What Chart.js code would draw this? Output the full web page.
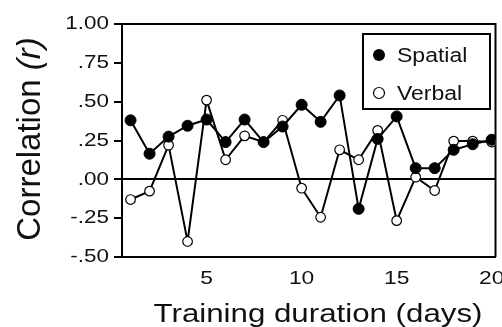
<!DOCTYPE html>
<html>
<head>
<meta charset="utf-8">
<script src="https://cdn.jsdelivr.net/npm/chart.js@4.4.1/dist/chart.umd.min.js"></script>
<style>
  html, body { margin: 0; padding: 0; background: #fff; }
  #wrap { width: 502px; height: 327px; }
</style>
</head>
<body>
<div id="wrap"><canvas id="chart"></canvas></div>
<script>
// valores
const days = [1, 2, 3, 4, 5, 6, 7, 8, 9, 10, 11, 12, 13, 14, 15, 16, 17, 18, 19, 20];
const spatial = [0.38, 0.165, 0.275, 0.345, 0.385, 0.24, 0.385, 0.24, 0.34, 0.48, 0.37, 0.54, -0.19, 0.26, 0.405, 0.072, 0.072, 0.19, 0.226, 0.255];
const verbal = [-0.13, -0.076, 0.22, -0.40, 0.51, 0.126, 0.28, 0.24, 0.38, -0.057, -0.244, 0.19, 0.126, 0.315, -0.266, 0.014, -0.072, 0.246, 0.246, 0.24];
const seriesNames = ['Spatial', 'Verbal'];
const xTicks = [5, 10, 15, 20];
const yTicks = [-0.5, -0.25, 0, 0.25, 0.5, 0.75, 1.0];
const xTitle = 'Training duration (days)';
const yTitle = 'Correlation ';
const yTitleVar = '(r)';

const FONT = '"Liberation Sans", Arial, sans-serif';

function fmtTick(v){
    return v.toFixed(2).replace('0.', '.');
}

// texto esticado na horizontal, como no original
function drawText(ctx, text, x, y, size, sx, align, base){
    ctx.save();
    ctx.translate(x, y);
    ctx.scale(sx, 1);
    ctx.font = size + 'px ' + FONT;
    ctx.fillStyle = '#111';
    ctx.textAlign = align;
    ctx.textBaseline = base;
    ctx.fillText(text, 0, 0);
    ctx.restore();
}

const framePlugin = {
    id: 'frame',
    beforeDatasetsDraw(chart){
        const {ctx, chartArea} = chart;
        ctx.save();
        ctx.strokeStyle = '#000';
        ctx.lineWidth = 2;
        ctx.beginPath();
        ctx.moveTo(chartArea.left, chartArea.top);
        ctx.lineTo(chartArea.right, chartArea.top);
        ctx.lineTo(chartArea.right, chartArea.bottom);
        ctx.stroke();
        ctx.restore();
    }
};

const textPlugin = {
    id: 'labels',
    afterDraw(chart){
        const ctx = chart.ctx;
        const xs = chart.scales.x, ys = chart.scales.y;
        yTicks.forEach(v => {
            drawText(ctx, fmtTick(v), 109, ys.getPixelForValue(v), 19, 1.18, 'right', 'middle');
        });
        xTicks.forEach(v => {
            drawText(ctx, String(v), xs.getPixelForValue(v), 279, 19, 1.2, 'center', 'middle');
        });
        drawText(ctx, xTitle, 318, 322, 25, 1.25, 'center', 'alphabetic');

        // título do eixo y, com (r) em itálico
        ctx.save();
        ctx.translate(40, 139);
        ctx.rotate(-Math.PI / 2);
        ctx.fillStyle = '#111';
        ctx.textBaseline = 'alphabetic';
        ctx.textAlign = 'left';
        ctx.font = '33px ' + FONT;
        const w1 = ctx.measureText(yTitle).width;
        ctx.font = 'italic 33px ' + FONT;
        const w2 = ctx.measureText(yTitleVar).width;
        const x0 = -(w1 + w2) / 2;
        ctx.font = '33px ' + FONT;
        ctx.fillText(yTitle, x0, 0);
        ctx.font = 'italic 33px ' + FONT;
        ctx.fillText(yTitleVar, x0 + w1, 0);
        ctx.restore();

        // legenda
        ctx.save();
        ctx.strokeStyle = '#000';
        ctx.lineWidth = 2;
        ctx.strokeRect(363, 34, 127, 75);
        ctx.beginPath();
        ctx.arc(379, 55, 6, 0, Math.PI * 2);
        ctx.fillStyle = '#000';
        ctx.fill();
        ctx.beginPath();
        ctx.arc(379, 93, 5.5, 0, Math.PI * 2);
        ctx.fillStyle = '#fff';
        ctx.fill();
        ctx.lineWidth = 1.2;
        ctx.stroke();
        ctx.restore();
        drawText(ctx, chart.data.datasets[0].label, 397, 56, 20, 1.15, 'left', 'middle');
        drawText(ctx, chart.data.datasets[1].label, 397, 94, 20, 1.15, 'left', 'middle');
    }
};

const ctx = document.getElementById('chart');
new Chart(ctx, {
    type: 'line',
    data: {
        datasets: [{
            label: seriesNames[0],
            data: days.map((d, i) => ({x: d, y: spatial[i]})),
            borderColor: '#000',
            borderWidth: 2,
            pointRadius: 5.5,
            pointBackgroundColor: '#000',
            pointBorderColor: '#000',
            pointBorderWidth: 1,
            tension: 0
        }, {
            label: seriesNames[1],
            data: days.map((d, i) => ({x: d, y: verbal[i]})),
            borderColor: '#000',
            borderWidth: 2,
            pointRadius: 4.8,
            pointBackgroundColor: '#fff',
            pointBorderColor: '#000',
            pointBorderWidth: 1.2,
            tension: 0
        }]
    },
    options: {
        responsive: true,
        maintainAspectRatio: false,
        animation: false,
        layout: { padding: { top: 24, right: 3, left: 0, bottom: 0 } },
        plugins: {
            legend: { display: false },
            tooltip: { enabled: false }
        },
        scales: {
            x: {
                type: 'linear',
                min: 0.55,
                max: 20.2,
                afterFit(scale){ scale.height = 70; },
                ticks: { display: false },
                grid: { display: false },
                border: { display: true, color: '#000', width: 2 }
            },
            y: {
                min: -0.5,
                max: 1.0,
                afterFit(scale){ scale.width = 122; },
                afterBuildTicks(scale){ scale.ticks = yTicks.map(v => ({value: v})); },
                ticks: { display: false },
                grid: {
                    drawOnChartArea: true,
                    drawTicks: true,
                    tickLength: 8,
                    lineWidth: 2,
                    color: c => (c.tick && c.tick.value === 0) ? '#000' : 'rgba(0,0,0,0)',
                    tickColor: '#000'
                },
                border: { display: true, color: '#000', width: 2 }
            }
        }
    },
    plugins: [framePlugin, textPlugin]
});
</script>
</body>
</html>
